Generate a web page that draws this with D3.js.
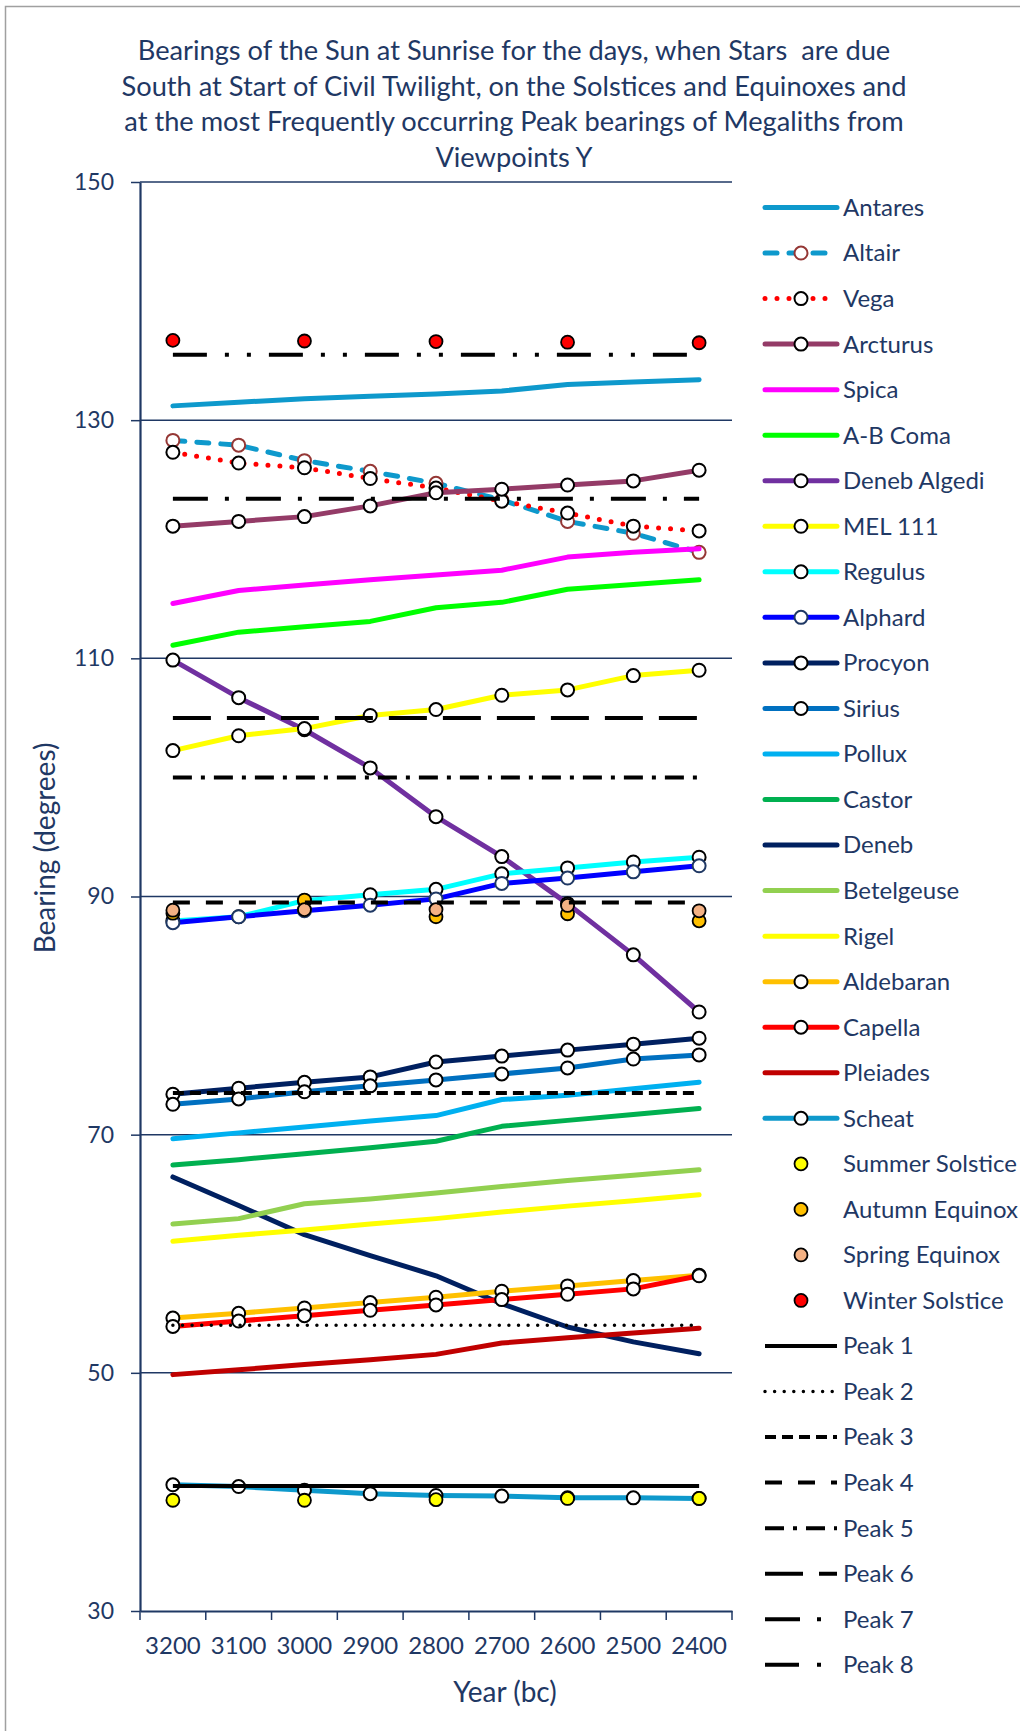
<!DOCTYPE html>
<html>
<head>
<meta charset="utf-8">
<script src="https://cdn.jsdelivr.net/npm/d3@7"></script>
<style>
  body { margin: 0; background: #fff; }
  svg { display: block; font-family: Lato, "Open Sans", sans-serif; }
</style>
</head>
<body>
<script>
const w = 1020;
const h = 1731;
const navy = "#1F3864";

// categories (x axis)
const years = ["3200", "3100", "3000", "2900", "2800", "2700", "2600", "2500", "2400"];

// star series (bearing in degrees)
const antares     = [131.2, 131.5, 131.8, 132.0, 132.2, 132.45, 133.0, 133.2, 133.4];
const altair      = [128.3, 127.9, 126.6, 125.7, 124.7, 123.3, 121.5, 120.5, 118.9];
const vega        = [127.3, 126.4, 126.0, 125.1, 124.3, 123.2, 122.2, 121.1, 120.7];
const arcturus    = [121.1, 121.5, 121.9, 122.8, 123.9, 124.2, 124.55, 124.9, 125.8];
const spica       = [114.6, 115.7, 116.15, 116.6, 117.0, 117.4, 118.5, 118.9, 119.2];
const abComa      = [111.1, 112.2, 112.65, 113.1, 114.25, 114.7, 115.8, 116.2, 116.6];
const denebAlgedi = [109.85, 106.7, 104.0, 100.8, 96.7, 93.35, 89.4, 85.1, 80.3];
const mel111      = [102.25, 103.5, 104.1, 105.2, 105.7, 106.9, 107.35, 108.55, 109.0];
const regulus     = [87.95, 88.3, 89.65, 90.15, 90.6, 91.9, 92.4, 92.9, 93.3];
const alphard     = [87.8, 88.3, 88.8, 89.27, 89.8, 91.1, 91.55, 92.07, 92.58];
const procyon     = [73.4, 73.9, 74.4, 74.85, 76.1, 76.6, 77.1, 77.6, 78.1];
const sirius      = [72.55, 73.0, 73.6, 74.1, 74.6, 75.1, 75.6, 76.35, 76.7];
const pollux      = [69.65, 70.15, 70.65, 71.15, 71.6, 72.95, 73.3, 73.85, 74.4];
const castor      = [67.45, 67.9, 68.4, 68.9, 69.45, 70.7, 71.2, 71.7, 72.2];
const deneb       = [66.45, 64.05, 61.6, 59.85, 58.15, 55.8, 53.85, 52.6, 51.6];
const betelgeuse  = [62.5, 62.95, 64.2, 64.6, 65.1, 65.65, 66.15, 66.6, 67.05];
const rigel       = [61.05, 61.55, 62.0, 62.5, 62.95, 63.5, 64.0, 64.45, 64.95];
const aldebaran   = [54.6, 55.0, 55.45, 55.9, 56.35, 56.85, 57.3, 57.75, 58.2];
const capella     = [53.9, 54.35, 54.8, 55.25, 55.7, 56.15, 56.6, 57.05, 58.15];
const pleiades    = [49.85, 50.25, 50.7, 51.1, 51.55, 52.5, 52.95, 53.35, 53.75];
const scheat      = [40.6, 40.45, 40.15, 39.85, 39.7, 39.65, 39.5, 39.5, 39.45];

// solstices / equinoxes (only every 200 years)
const summerSolstice = [39.3, null, 39.3, null, 39.35, null, 39.45, null, 39.45];
const autumnEquinox  = [88.6, null, 89.7, null, 88.3, null, 88.55, null, 87.95];
const springEquinox  = [88.85, null, 88.9, null, 88.9, null, 89.25, null, 88.8];
const winterSolstice = [136.7, null, 136.65, null, 136.6, null, 136.55, null, 136.5];

// peak bearings of megaliths
const peakNames  = ["Peak 1", "Peak 2", "Peak 3", "Peak 4", "Peak 5", "Peak 6", "Peak 7", "Peak 8"];
const peakValues = [40.5, 54.0, 73.5, 89.5, 100, 105, 123.4, 135.5];

const yTicks = [30, 50, 70, 90, 110, 130, 150];

const titleLines = [
    "Bearings of the Sun at Sunrise for the days, when Stars  are due",
    "South at Start of Civil Twilight, on the Solstices and Equinoxes and",
    "at the most Frequently occurring Peak bearings of Megaliths from",
    "Viewpoints Y"
];

// styling table built from the arrays above
const stars = [
    { name: "Antares", values: antares, color: "#0E99CC" },
    { name: "Altair", values: altair, color: "#0E99CC", dash: "12 12", cap: "round", marker: "#953735" },
    { name: "Vega", values: vega, color: "#FF0000", dash: "0 12", cap: "round", marker: "#000" },
    { name: "Arcturus", values: arcturus, color: "#943B67", marker: "#000" },
    { name: "Spica", values: spica, color: "#FF00FF" },
    { name: "A-B Coma", values: abComa, color: "#00FF00" },
    { name: "Deneb Algedi", values: denebAlgedi, color: "#7030A0", marker: "#000" },
    { name: "MEL 111", values: mel111, color: "#FFFF00", marker: "#000" },
    { name: "Regulus", values: regulus, color: "#00FFFF", marker: "#000" },
    { name: "Alphard", values: alphard, color: "#0000FF", marker: navy },
    { name: "Procyon", values: procyon, color: "#002060", marker: "#000" },
    { name: "Sirius", values: sirius, color: "#0070C0", marker: "#000" },
    { name: "Pollux", values: pollux, color: "#00B0F0" },
    { name: "Castor", values: castor, color: "#00B050" },
    { name: "Deneb", values: deneb, color: "#002060" },
    { name: "Betelgeuse", values: betelgeuse, color: "#92D050" },
    { name: "Rigel", values: rigel, color: "#FFFF00" },
    { name: "Aldebaran", values: aldebaran, color: "#FFC000", marker: "#000" },
    { name: "Capella", values: capella, color: "#FF0000", marker: "#000" },
    { name: "Pleiades", values: pleiades, color: "#C00000" },
    { name: "Scheat", values: scheat, color: "#0E99CC", marker: "#000" }
];

const seasons = [
    { name: "Summer Solstice", values: summerSolstice, fill: "#FFFF00" },
    { name: "Autumn Equinox", values: autumnEquinox, fill: "#FFC000" },
    { name: "Spring Equinox", values: springEquinox, fill: "#F4B183" },
    { name: "Winter Solstice", values: winterSolstice, fill: "#FF0000" }
];

const peakDash = [null, "0 9.6", "11 6", "17 16", "19 9 4 9", "38 16", "35 17 4 17", "34 18 4 18 4 18"];
const peakCap = ["butt", "round", "butt", "butt", "butt", "butt", "butt", "butt"];

const svg = d3.select("body").append("svg")
    .attr("width", w)
    .attr("height", h);

// chart border
svg.append("rect")
    .attr("x", 5.5).attr("y", 6.5)
    .attr("width", 2000).attr("height", 2000)
    .attr("fill", "none")
    .attr("stroke", "#A0A0A0")
    .attr("stroke-width", 1.5);

const plotLeft = 140, plotRight = 732, plotTop = 182, plotBottom = 1611;

const x = d3.scaleBand().domain(years).range([plotLeft, plotRight]);
const xc = (yr) => x(yr) + x.bandwidth() / 2;
const y = d3.scaleLinear().domain([30, 150]).range([plotBottom, plotTop]);

// title
const title = svg.append("g").attr("fill", navy).attr("text-anchor", "middle");
const titleY = [50, 86, 121.5, 157];
const titleText = title.selectAll("text")
    .data(titleLines)
    .enter()
    .append("text")
    .attr("x", 514)
    .attr("y", (d, i) => titleY[i])
    .attr("dy", "0.35em")
    .attr("font-size", 26)
    .style("white-space", "pre")
    .text(d => d);
const len = titleText.nodes()[1].getComputedTextLength();
titleText.attr("font-size", 26 * 785 / len);

// gridlines
svg.append("g")
    .selectAll("line")
    .data(yTicks.filter(t => t > 30))
    .enter()
    .append("line")
    .attr("x1", plotLeft).attr("x2", plotRight)
    .attr("y1", d => y(d)).attr("y2", d => y(d))
    .attr("stroke", navy)
    .attr("stroke-width", 1.5);

// y axis
const yAxis = svg.append("g")
    .attr("transform", "translate(" + plotLeft + ",0)")
    .call(d3.axisLeft(y).tickValues(yTicks).tickSize(9).tickPadding(17).tickSizeOuter(0));
yAxis.select(".domain").attr("stroke", navy).attr("stroke-width", 2.2);
yAxis.selectAll(".tick line").attr("stroke", navy).attr("stroke-width", 1.5);
yAxis.selectAll("text").attr("fill", navy).attr("font-size", 23).attr("font-family", "Lato");

// x axis
const xAxis = svg.append("g")
    .attr("transform", "translate(0," + plotBottom + ")")
    .call(d3.axisBottom(x).tickSize(0).tickSizeOuter(0));
xAxis.select(".domain").attr("stroke", navy).attr("stroke-width", 2);
xAxis.selectAll("text")
    .attr("y", 35).attr("dy", "0.35em")
    .attr("fill", navy).attr("font-size", 24).attr("font-family", "Lato");
// tick marks sit between categories
svg.append("g")
    .selectAll("line")
    .data(years.map(d => x(d)).concat([x(years[years.length - 1]) + x.step()]))
    .enter()
    .append("line")
    .attr("x1", d => d).attr("x2", d => d)
    .attr("y1", plotBottom).attr("y2", plotBottom + 9)
    .attr("stroke", navy)
    .attr("stroke-width", 1.5);

// axis titles
svg.append("text")
    .attr("transform", "translate(45,848) rotate(-90)")
    .attr("text-anchor", "middle")
    .attr("dy", "0.35em")
    .attr("fill", navy)
    .attr("font-size", 28)
    .text("Bearing (degrees)");

svg.append("text")
    .attr("x", 505).attr("y", 1692)
    .attr("text-anchor", "middle")
    .attr("dy", "0.35em")
    .attr("fill", navy)
    .attr("font-size", 28)
    .text("Year (bc)");

const line = d3.line()
    .defined(d => d != null)
    .x((d, i) => xc(years[i]))
    .y(d => y(d));

const markerR = 6.5;
const lineW = 5;

// star series, in legend order
stars.forEach(s => {
    const g = svg.append("g");
    g.append("path")
        .datum(s.values)
        .attr("d", line)
        .attr("fill", "none")
        .attr("stroke", s.color)
        .attr("stroke-width", lineW)
        .attr("stroke-linejoin", "round")
        .attr("stroke-linecap", s.cap || "round")
        .attr("stroke-dasharray", s.dash || null);
    if (s.marker) {
        g.selectAll("circle")
            .data(s.values)
            .enter()
            .append("circle")
            .attr("cx", (d, i) => xc(years[i]))
            .attr("cy", d => y(d))
            .attr("r", markerR)
            .attr("fill", "#fff")
            .attr("stroke", s.marker)
            .attr("stroke-width", 2);
    }
});

// solstice / equinox dots
seasons.forEach(s => {
    svg.append("g")
        .selectAll("circle")
        .data(s.values.map((v, i) => ({ v: v, yr: years[i] })).filter(d => d.v != null))
        .enter()
        .append("circle")
        .attr("cx", d => xc(d.yr))
        .attr("cy", d => y(d.v))
        .attr("r", markerR)
        .attr("fill", s.fill)
        .attr("stroke", "#000")
        .attr("stroke-width", 1.8);
});

// peak lines
peakValues.forEach((v, i) => {
    svg.append("path")
        .datum(years.map(() => v))
        .attr("d", line)
        .attr("fill", "none")
        .attr("stroke", "#000")
        .attr("stroke-width", i == 1 ? 3.5 : 4)
        .attr("stroke-linecap", peakCap[i])
        .attr("stroke-dasharray", peakDash[i]);
});

// legend
const legendTop = 207.5, legendStep = 45.54;
const lx1 = 765, lx2 = 837, lmx = 801, ltx = 843;
const legendItems = []
    .concat(stars.map(s => ({ type: "star", s: s })))
    .concat(seasons.map(s => ({ type: "season", s: s })))
    .concat(peakNames.map((n, i) => ({ type: "peak", name: n, i: i })));

const legend = svg.append("g");
legendItems.forEach((item, k) => {
    const ly = legendTop + k * legendStep;
    const g = legend.append("g");
    if (item.type == "star") {
        const s = item.s;
        g.append("line")
            .attr("x1", lx1).attr("x2", lx2).attr("y1", ly).attr("y2", ly)
            .attr("stroke", s.color)
            .attr("stroke-width", lineW)
            .attr("stroke-linecap", s.cap || "round")
            .attr("stroke-dasharray", s.dash || null);
        if (s.marker) {
            g.append("circle")
                .attr("cx", lmx).attr("cy", ly).attr("r", markerR)
                .attr("fill", "#fff").attr("stroke", s.marker).attr("stroke-width", 2);
        }
    } else if (item.type == "season") {
        g.append("circle")
            .attr("cx", lmx).attr("cy", ly).attr("r", markerR)
            .attr("fill", item.s.fill).attr("stroke", "#000").attr("stroke-width", 1.8);
    } else {
        g.append("line")
            .attr("x1", lx1).attr("x2", lx2).attr("y1", ly).attr("y2", ly)
            .attr("stroke", "#000")
            .attr("stroke-width", item.i == 1 ? 3.5 : 4)
            .attr("stroke-linecap", peakCap[item.i])
            .attr("stroke-dasharray", peakDash[item.i]);
    }
    g.append("text")
        .attr("x", ltx).attr("y", ly)
        .attr("dy", "0.35em")
        .attr("fill", navy)
        .attr("font-size", 24)
        .text(item.type == "peak" ? item.name : item.s.name);
});
</script>
</body>
</html>
